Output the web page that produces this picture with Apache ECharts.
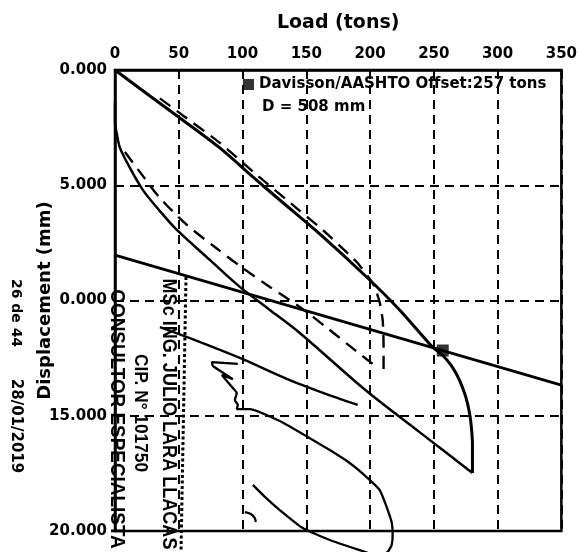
<!DOCTYPE html>
<html>
<head>
<meta charset="utf-8">
<script src="https://cdn.jsdelivr.net/npm/echarts@6/dist/echarts.min.js"></script>
<style>
html,body{margin:0;padding:0;background:#fff;}
#chart{width:580px;height:552px;}
</style>
</head>
<body>
<div id="chart"></div>
<script>
// Tick labels
const xTickLabels = ['0','50','100','150','200','250','300','350'];
const yTickLabels = ['0.000','5.000','0.000','15.000','20.000'];

// Loading curve (load in tons, displacement in mm)
const loadingLoad = [0, 27.4, 50.9, 82.2, 108.1, 129.2, 160.5, 197.3, 223.2, 249.0, 256.0, 263.9, 270.1, 274.8, 278.0, 279.5, 280.3, 280.3];
const loadingDisp = [0, 1.13, 2.08, 3.38, 4.64, 5.64, 7.11, 8.98, 10.41, 12.02, 12.32, 12.84, 13.45, 14.14, 14.88, 15.53, 16.27, 17.48];

// Return curve
const returnLoad = [280.3, 238.8, 197.3, 144.9, 121.4, 97.9, 74.4, 48.5, 35.2, 21.9, 11.7, 3.9, 1.6, 0, 0];
const returnDisp = [17.48, 15.71, 13.93, 11.41, 10.41, 9.41, 8.24, 6.94, 6.12, 5.21, 4.25, 3.38, 2.82, 2.26, 1.4];

// Dashed reload curve 1
const dashALoad = [35.2, 53.2, 82.2, 111.2, 144.9, 162.9, 189.5, 198.1, 203.6, 207.5, 209.9, 210.6, 210.6, 207.5];
const dashADisp = [1.23, 1.97, 3.16, 4.55, 6.11, 6.94, 8.33, 8.94, 9.41, 10.07, 10.85, 11.93, 13.02, 13.10];

// Dashed reload curve 2
const dashBLoad = [7.8, 19.6, 35.2, 56.4, 78.3, 97.9, 121.4, 144.9, 168.4, 184.0, 202.0];
const dashBDisp = [3.56, 4.43, 5.55, 6.72, 7.68, 8.50, 9.41, 10.28, 11.28, 11.97, 12.75];

// Davisson offset line
const davLoad = [0, 350];
const davDisp = [8.03, 13.67];

// Secondary line
const lineFLoad = [35.2, 58.7, 97.9, 137.0, 176.2, 190.3];
const lineFDisp = [11.15, 11.63, 12.49, 13.45, 14.27, 14.53];

// Scribble + loop
const loopLoad = [96.3, 76.0, 76.7, 92.4, 83.8, 92.4, 95.5, 94.0, 96.3, 95.5, 105.7, 129.2, 151.1, 168.4, 184.0, 197.3, 207.5, 213.0, 216.9, 217.7, 216.9, 213.8, 205.9, 194.2, 168.4, 147.2, 129.2, 117.5, 108.1];
const loopDisp = [12.75, 12.67, 12.84, 13.41, 13.23, 13.80, 14.01, 14.32, 14.53, 14.71, 14.71, 15.23, 15.92, 16.49, 17.05, 17.66, 18.22, 18.96, 19.61, 20.17, 20.61, 20.91, 21.08, 20.87, 20.39, 19.87, 19.09, 18.52, 18.00];

// Small hook mark
const hookLoad = [101.8, 106.5, 109.6, 110.4];
const hookDisp = [19.18, 19.26, 19.44, 19.61];

// Davisson point
const davPointLoad = [257];
const davPointDisp = [12.17];
const davName = 'Davisson/AASHTO Offset:257 tons';

function zip(a, b) { return a.map((v, i) => [v, b[i]]); }

const FONT = 'DejaVu Sans';
const black = '#000';

function solid(data, w, smooth) {
  return { type: 'line', data: data, symbol: 'none', clip: false, smooth: smooth || 0,
    lineStyle: { color: black, width: w }, z: 3 };
}
function dashed(data, smooth) {
  return { type: 'line', data: data, symbol: 'none', clip: false, smooth: smooth || 0,
    lineStyle: { color: black, width: 2.4, type: [13, 8] }, z: 3 };
}

function rotText(text, x, y, font, sx) {
  return { type: 'text', x: x, y: y, rotation: -Math.PI / 2, scaleX: sx || 1, z: 100,
    style: { text: text, font: font, fill: black, align: 'center', verticalAlign: 'middle',
             textAlign: 'center', textVerticalAlign: 'middle' } };
}

const chart = echarts.init(document.getElementById('chart'), null, { renderer: 'canvas' });
chart.setOption({
  animation: false,
  backgroundColor: '#fff',
  grid: { left: 115, right: 18, top: 70, bottom: 21, show: true, borderColor: black, borderWidth: 2.5, backgroundColor: 'transparent' },
  legend: {
    data: [{ name: davName, icon: 'rect' }],
    left: 243, top: 77, padding: 0, itemWidth: 11, itemHeight: 11,
    textStyle: { fontSize: 15, fontWeight: 'bold', fontFamily: FONT, color: black }
  },
  xAxis: {
    type: 'value', position: 'top', min: 0, max: 350, interval: 50,
    name: 'Load (tons)', nameLocation: 'middle', nameGap: 37, nameMoveOverlap: false,
    nameTextStyle: { fontSize: 19, fontWeight: 'bold', fontFamily: FONT, color: black },
    axisLine: { show: true, lineStyle: { color: black, width: 2.5 } },
    axisTick: { show: false },
    axisLabel: { fontSize: 15, fontWeight: 'bold', fontFamily: FONT, color: black, margin: 8,
      formatter: v => xTickLabels[Math.round(v / 50)] },
    splitLine: { show: true, lineStyle: { color: black, width: 2, type: [9, 6] } }
  },
  yAxis: {
    type: 'value', inverse: true, min: 0, max: 20, interval: 5,
    name: 'Displacement (mm)', nameLocation: 'middle', nameGap: 61, nameRotate: 90, nameMoveOverlap: false,
    nameTextStyle: { fontSize: 18, fontWeight: 'bold', fontFamily: FONT, color: black },
    axisLine: { show: true, lineStyle: { color: black, width: 2.5 } },
    axisTick: { show: false },
    axisLabel: { fontSize: 15, fontWeight: 'bold', fontFamily: FONT, color: black, margin: 8,
      formatter: v => yTickLabels[Math.round(v / 5)] },
    splitLine: { show: true, lineStyle: { color: black, width: 2, type: [9, 6] } }
  },
  series: [
    solid(zip(loadingLoad, loadingDisp), 3, 0.3),
    solid(zip(returnLoad, returnDisp), 2.5, 0.3),
    dashed(zip(dashALoad, dashADisp), 0.2),
    dashed(zip(dashBLoad, dashBDisp), 0.3),
    solid(zip(davLoad, davDisp), 2.7, 0),
    solid(zip(lineFLoad, lineFDisp), 2.4, 0.3),
    solid(zip(loopLoad, loopDisp), 2.3, 0.15),
    solid(zip(hookLoad, hookDisp), 2.3, 0.3),
    { type: 'scatter', name: davName, data: zip(davPointLoad, davPointDisp), symbol: 'rect', symbolSize: 12,
      itemStyle: { color: black }, z: 5 }
  ],
  graphic: [
    { type: 'text', x: 262, y: 107, z: 100,
      style: { text: 'D = 508 mm', font: 'bold 15px "DejaVu Sans"', fill: black, align: 'left', verticalAlign: 'middle',
               textAlign: 'left', textVerticalAlign: 'middle' } },
    rotText('26 de 44', 16, 313, 'bold 14px "DejaVu Sans"'),
    rotText('28/01/2019', 16, 426, 'bold 15px "DejaVu Sans"'),
    rotText('MSc ING. JULIO LARA LLACAS', 169, 414, 'bold 21px "Liberation Sans"', 0.86),
    rotText('CIP. N° 101750', 140, 413, 'bold 18px "Liberation Sans"', 0.96),
    rotText('CONSULTOR ESPECIALISTA', 117, 419, 'bold 21px "Liberation Sans"', 0.9),
    { type: 'line', z: 100, shape: { x1: 186, y1: 277, x2: 181, y2: 552 },
      style: { stroke: black, lineWidth: 3, lineDash: [3, 2.5] } }
  ]
});
</script>
</body>
</html>
